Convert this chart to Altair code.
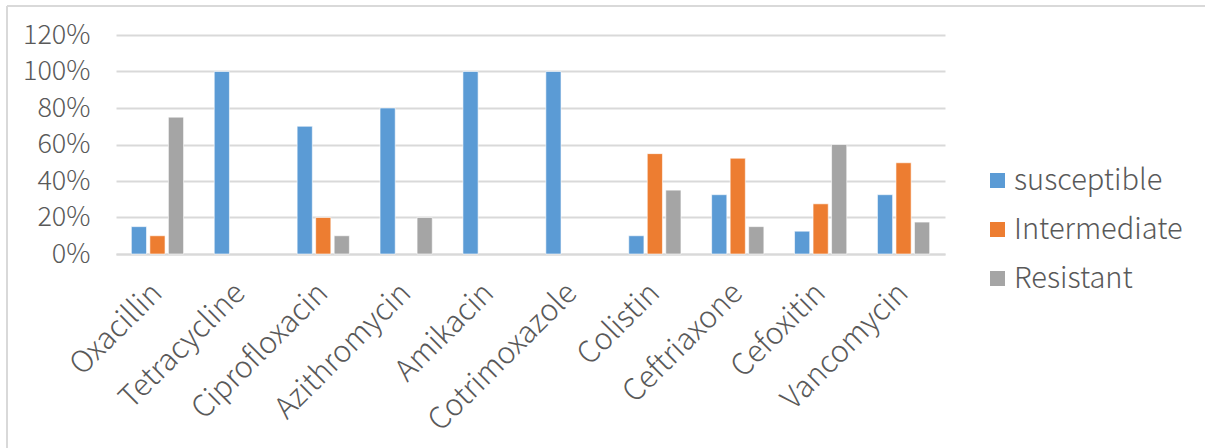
import altair as alt
import pandas as pd

# Antibiotic susceptibility profile (share of isolates)
antibiotics = ["Oxacillin", "Tetracycline", "Ciprofloxacin", "Azithromycin", "Amikacin",
               "Cotrimoxazole", "Colistin", "Ceftriaxone", "Cefoxitin", "Vancomycin"]
susceptible = [0.15, 1.00, 0.70, 0.80, 1.00, 1.00, 0.10, 0.325, 0.125, 0.325]
intermediate = [0.10, 0.0, 0.20, 0.0, 0.0, 0.0, 0.55, 0.525, 0.275, 0.50]
resistant = [0.75, 0.0, 0.10, 0.20, 0.0, 0.0, 0.35, 0.15, 0.60, 0.175]

series = ["susceptible", "Intermediate", "Resistant"]
colors = ["#5B9BD5", "#ED7D31", "#A5A5A5"]

rows = []
for i, name in enumerate(antibiotics):
    for s, vals in zip(series, [susceptible, intermediate, resistant]):
        rows.append({"antibiotic": name, "status": s, "value": vals[i]})
df = pd.DataFrame(rows)

FONT = "Noto Sans CJK SC"
WEIGHT = 300
TEXT = "#595959"
GRID = "#D9D9D9"
W, H = 829, 219

bars = alt.Chart(df).transform_filter("datum.value > 0").mark_bar(
    stroke="white", strokeWidth=0.6
).encode(
    x=alt.X("antibiotic:N", sort=antibiotics, title=None,
            scale=alt.Scale(domain=antibiotics, paddingInner=0.37, paddingOuter=0.185),
            axis=alt.Axis(labelAngle=-45, labelAlign="right", labelBaseline="middle",
                          labelFontSize=30, labelFont=FONT, labelFontWeight=WEIGHT,
                          labelColor=TEXT, labelPadding=34, labelLimit=0,
                          ticks=False, domain=True, domainColor=GRID, domainWidth=2,
                          grid=False)),
    xOffset=alt.XOffset("status:N", sort=series,
                        scale=alt.Scale(domain=series, paddingInner=0.18)),
    y=alt.Y("value:Q", title=None,
            scale=alt.Scale(domain=[0, 1.2], nice=False),
            axis=alt.Axis(format=".0%", values=[0, 0.2, 0.4, 0.6, 0.8, 1.0, 1.2],
                          labelFontSize=27, labelFont=FONT, labelFontWeight=WEIGHT,
                          labelColor=TEXT, labelPadding=26, ticks=False, domain=False,
                          gridColor=GRID, gridWidth=2)),
    color=alt.Color("status:N", sort=series,
                    scale=alt.Scale(domain=series, range=colors),
                    legend=alt.Legend(title=None, orient="none", legendX=867, legendY=131,
                                      symbolType="square", symbolSize=225,
                                      symbolStrokeWidth=0, labelFontSize=29,
                                      labelFont=FONT, labelFontWeight=WEIGHT,
                                      labelColor=TEXT, labelLimit=0,
                                      rowPadding=19, labelOffset=2)),
)

# Light frame around the chart (top and left edges)
frame_top = alt.Chart(pd.DataFrame({"k": [0]})).mark_rule(color=GRID, strokeWidth=2, clip=False).encode(
    x=alt.value(-109), x2=alt.value(1205 - 116), y=alt.value(-29)
)
frame_left = alt.Chart(pd.DataFrame({"k": [0]})).mark_rule(color=GRID, strokeWidth=2, clip=False).encode(
    x=alt.value(-109), y=alt.value(-29), y2=alt.value(448 - 35)
)

chart = alt.layer(bars, frame_top, frame_left).properties(
    width=W, height=H,
    autosize=alt.AutoSizeParams(type="none"),
    padding={"left": 116, "top": 35, "right": 1205 - 116 - W, "bottom": 448 - 35 - H},
    background="white",
).configure_view(stroke=None)

chart.save("out.html", embed_options={"renderer": "svg", "actions": False})
